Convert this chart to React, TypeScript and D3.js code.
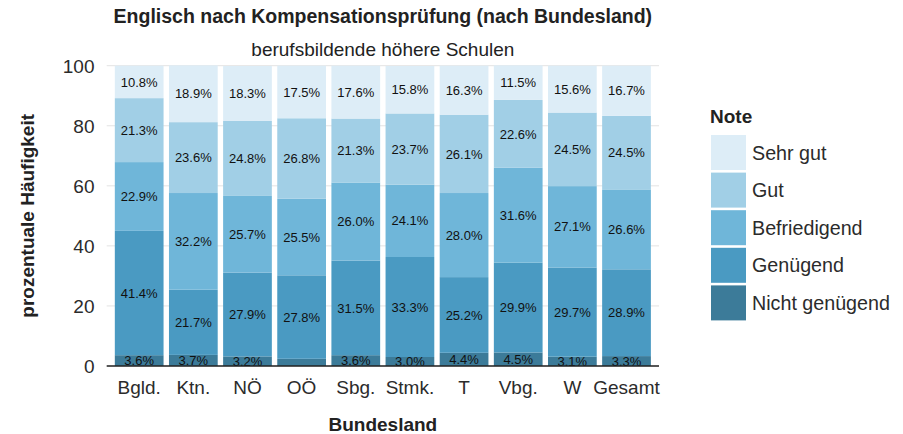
import React, { useEffect, useRef } from "react"
import * as d3 from "d3"

const W = 903
const H = 434

const laender = ["Bgld.", "Ktn.", "NÖ", "OÖ", "Sbg.", "Stmk.", "T", "Vbg.", "W", "Gesamt"]
const noten = ["Nicht genügend", "Genügend", "Befriedigend", "Gut", "Sehr gut"]

const nichtGenuegend = [3.6, 3.7, 3.2, 2.4, 3.6, 3.0, 4.4, 4.5, 3.1, 3.3]
const genuegend = [41.4, 21.7, 27.9, 27.8, 31.5, 33.3, 25.2, 29.9, 29.7, 28.9]
const befriedigend = [22.9, 32.2, 25.7, 25.5, 26.0, 24.1, 28.0, 31.6, 27.1, 26.6]
const gut = [21.3, 23.6, 24.8, 26.8, 21.3, 23.7, 26.1, 22.6, 24.5, 24.5]
const sehrGut = [10.8, 18.9, 18.3, 17.5, 17.6, 15.8, 16.3, 11.5, 15.6, 16.7]

const farben = ["#3c7b99", "#4a9ac2", "#6fb6d9", "#a1cfe6", "#ddedf7"]
const yTicks = [0, 20, 40, 60, 80, 100]

const font = "'Liberation Sans', Arial, Helvetica, sans-serif"

const App: React.FC = () => {
	const ref = useRef<SVGSVGElement>(null)

	useEffect(() => {
		const svg = d3.select(ref.current)
		svg.selectAll("*").remove()

		const margin = { top: 65.7, left: 106.7, right: 659, bottom: 366 }
		const reihen = [nichtGenuegend, genuegend, befriedigend, gut, sehrGut]
		const mitte = (margin.left + margin.right) / 2

		const rows = laender.map((l, i) => {
			const r: any = { land: l }
			noten.forEach((n, k) => (r[n] = reihen[k][i]))
			return r
		})
		const stacked = d3.stack().keys(noten)(rows)

		const x = d3
			.scaleBand()
			.domain(laender)
			.range([margin.left, margin.right])
			.paddingInner(0.1)
			.paddingOuter(0.15)
		const y = d3.scaleLinear().domain([0, 100]).range([margin.bottom, margin.top])

		// grid
		svg
			.append("g")
			.selectAll("line")
			.data(yTicks)
			.join("line")
			.attr("x1", margin.left)
			.attr("x2", margin.right)
			.attr("y1", (d) => y(d))
			.attr("y2", (d) => y(d))
			.attr("stroke", "#e3e3e3")
			.attr("stroke-width", 1)

		// bars
		stacked.forEach((layer, k) => {
			svg
				.append("g")
				.selectAll("rect")
				.data(layer)
				.join("rect")
				.attr("x", (d: any) => x(d.data.land)!)
				.attr("width", x.bandwidth())
				.attr("y", (d) => y(d[1]))
				.attr("height", (d) => y(d[0]) - y(d[1]))
				.attr("fill", farben[k])
		})

		// labels
		stacked.forEach((layer) => {
			svg
				.append("g")
				.selectAll("text")
				.data(layer.filter((d) => d[1] - d[0] >= 2.5))
				.join("text")
				.attr("x", (d: any) => x(d.data.land)! + x.bandwidth() / 2)
				.attr("y", (d) => y((d[0] + d[1]) / 2))
				.attr("dy", "0.36em")
				.attr("text-anchor", "middle")
				.attr("font-family", font)
				.attr("font-size", 13)
				.attr("fill", "#111")
				.text((d) => (d[1] - d[0]).toFixed(1) + "%")
		})

		// axis line
		svg
			.append("line")
			.attr("x1", margin.left)
			.attr("x2", margin.right)
			.attr("y1", y(0))
			.attr("y2", y(0))
			.attr("stroke", "#222")
			.attr("stroke-width", 1.3)

		// y tick labels
		svg
			.append("g")
			.selectAll("text")
			.data(yTicks)
			.join("text")
			.attr("x", 94.5)
			.attr("y", (d) => y(d))
			.attr("dy", "0.36em")
			.attr("text-anchor", "end")
			.attr("font-family", font)
			.attr("font-size", 19)
			.attr("fill", "#2b2b2b")
			.text((d) => d)

		// x tick labels
		svg
			.append("g")
			.selectAll("text")
			.data(laender)
			.join("text")
			.attr("x", (d) => x(d)! + x.bandwidth() / 2)
			.attr("y", 393.5)
			.attr("text-anchor", "middle")
			.attr("font-family", font)
			.attr("font-size", 19)
			.attr("fill", "#2b2b2b")
			.text((d) => d)

		// titles
		svg
			.append("text")
			.attr("x", mitte)
			.attr("y", 23)
			.attr("text-anchor", "middle")
			.attr("font-family", font)
			.attr("font-size", 19.5)
			.attr("font-weight", "bold")
			.attr("fill", "#222")
			.text("Englisch nach Kompensationsprüfung (nach Bundesland)")
		svg
			.append("text")
			.attr("x", mitte)
			.attr("y", 55.5)
			.attr("text-anchor", "middle")
			.attr("font-family", font)
			.attr("font-size", 19)
			.attr("fill", "#222")
			.text("berufsbildende höhere Schulen")

		svg
			.append("text")
			.attr("x", mitte)
			.attr("y", 431)
			.attr("text-anchor", "middle")
			.attr("font-family", font)
			.attr("font-size", 19)
			.attr("font-weight", "bold")
			.attr("fill", "#222")
			.text("Bundesland")
		svg
			.append("text")
			.attr("transform", `translate(34,${(margin.top + margin.bottom) / 2}) rotate(-90)`)
			.attr("text-anchor", "middle")
			.attr("font-family", font)
			.attr("font-size", 19)
			.attr("font-weight", "bold")
			.attr("fill", "#222")
			.text("prozentuale Häufigkeit")

		// legend
		const leg = svg.append("g")
		leg
			.append("text")
			.attr("x", 710)
			.attr("y", 122.7)
			.attr("font-family", font)
			.attr("font-size", 19)
			.attr("font-weight", "bold")
			.attr("fill", "#222")
			.text("Note")
		const legItems = noten.slice().reverse()
		const legCols = farben.slice().reverse()
		legItems.forEach((n, i) => {
			const top = 135 + i * 37.6
			leg
				.append("rect")
				.attr("x", 711)
				.attr("y", top)
				.attr("width", 35)
				.attr("height", 35)
				.attr("fill", legCols[i])
			leg
				.append("text")
				.attr("x", 752)
				.attr("y", top + 17.5)
				.attr("dy", "0.36em")
				.attr("font-family", font)
				.attr("font-size", 19.7)
				.attr("fill", "#2b2b2b")
				.text(n)
		})
	}, [])

	return (
		<div style={{ position: "absolute", left: 0, top: 0 }}>
			<svg ref={ref} width={W} height={H} style={{ display: "block", background: "#fff" }} />
		</div>
	)
}

export default App
